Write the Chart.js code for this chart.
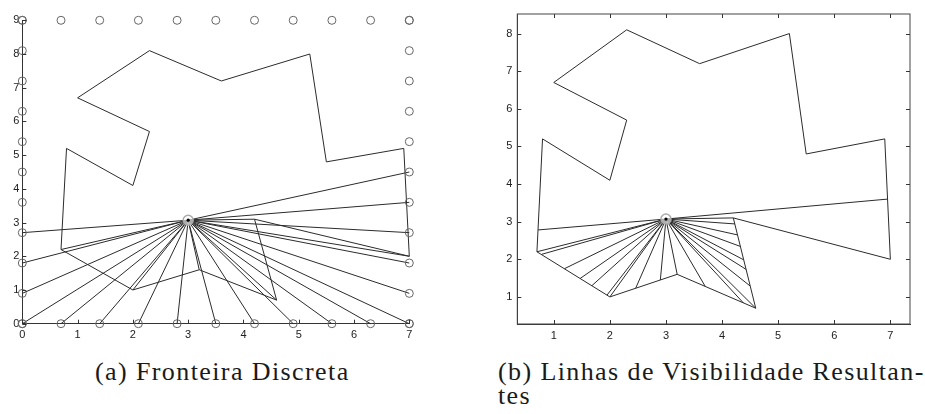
<!DOCTYPE html>
<html>
<head>
<meta charset="utf-8">
<script src="https://cdn.jsdelivr.net/npm/chart.js@4.4.0/dist/chart.umd.min.js"></script>
<style>
body { margin: 0; background: #fff; width: 925px; height: 414px; position: relative; overflow: hidden; }
canvas { position: absolute; top: 0; }
#chartA { left: 0; }
#chartB { left: 470px; }
.caption { position: absolute; font-family: "Liberation Serif", serif; font-size: 26px; letter-spacing: 1.4px; line-height: 24px; color: #1a1a1a; white-space: nowrap; }
#capA { left: 95px; top: 360px; }
#capB { left: 498px; top: 360px; }
</style>
</head>
<body>
<canvas id="chartA" width="440" height="350"></canvas>
<canvas id="chartB" width="455" height="350"></canvas>
<div class="caption" id="capA">(a) Fronteira Discreta</div>
<div class="caption" id="capB">(b) Linhas de Visibilidade Resultan-<br>tes</div>
<script>
// robot position
const robot = [3.0, 3.07];

// obstacle / room boundary polygon (closed)
const obstacleX = [1.0, 2.3, 3.6, 5.2, 5.5, 6.9, 7.0, 4.2, 4.6, 3.2, 2.0, 0.7, 0.8, 2.0, 2.3, 1.0];
const obstacleY = [6.7, 8.1, 7.2, 8.0, 4.8, 5.2, 2.0, 3.1, 0.7, 1.6, 1.0, 2.2, 5.2, 4.1, 5.7, 6.7];

// discrete frontier points (a)
const frontierX = [0, 0.7, 1.4, 2.1, 2.8, 3.5, 4.2, 4.9, 5.6, 6.3, 7];
const frontierY = [0, 0.9, 1.8, 2.7, 3.6, 4.5, 5.4, 6.3, 7.2, 8.1, 9];

// rays drawn in (a): robot -> target
const raysAX = [0, 0, 0, 0, 0.7, 1.4, 2.1, 2.8, 3.5, 4.2, 4.9, 5.6, 6.3, 7, 7, 7, 7, 7, 7, 0.7, 2.0, 3.2, 4.6, 4.2, 7.0];
const raysAY = [2.7, 1.8, 0.9, 0, 0, 0, 0, 0, 0, 0, 0, 0, 0, 0, 0.9, 1.8, 2.7, 3.6, 4.5, 2.2, 1.0, 1.6, 0.7, 3.1, 2.0];

// resulting visibility lines in (b): robot -> hit point
const raysBX = [0.72, 0.70, 0.78, 1.19, 1.47, 1.68, 1.95, 2.00, 2.46, 2.90, 3.20, 3.70, 4.38, 4.60, 4.50, 4.43, 4.38, 4.33, 4.27, 4.23, 4.20, 6.95];
const raysBY = [2.78, 2.20, 2.13, 1.75, 1.49, 1.30, 1.05, 1.00, 1.23, 1.45, 1.60, 1.28, 0.84, 0.70, 1.29, 1.73, 1.99, 2.34, 2.65, 2.94, 3.10, 3.60];

// tick labels
const ticksAX = [0, 1, 2, 3, 4, 5, 6, 7];
const ticksAY = [0, 1, 2, 3, 4, 5, 6, 7, 8, 9];
const ticksBX = [1, 2, 3, 4, 5, 6, 7];
const ticksBY = [1, 2, 3, 4, 5, 6, 7, 8];

const lineColor = "#2b2b2b";
const tickFont = { family: "Liberation Sans", size: 11 };

const pts = (xs, ys) => xs.map((x, i) => ({ x: x, y: ys[i] }));

const segment = (x, y, noClip) => ({
    data: [{ x: robot[0], y: robot[1] }, { x: x, y: y }],
    showLine: true,
    borderColor: lineColor,
    borderWidth: 1,
    pointRadius: 0,
    clip: noClip ? false : undefined
});

const robotSets = () => [
    {
        data: [{ x: robot[0], y: robot[1] }],
        pointRadius: 1.6,
        pointBackgroundColor: "#000",
        pointBorderColor: "#000",
        borderWidth: 0,
        clip: false
    },
    {
        data: [{ x: robot[0], y: robot[1] }],
        pointRadius: 5,
        pointBackgroundColor: "rgba(255,255,255,0.6)",
        pointBorderColor: "#aaa",
        pointBorderWidth: 1.5,
        clip: false
    }
];

const polygonSet = {
    data: pts(obstacleX, obstacleY),
    showLine: true,
    borderColor: lineColor,
    borderWidth: 1,
    pointRadius: 0,
    clip: false
};

// inward tick marks, and an optional full box
const matlabAxes = {
    id: "matlabAxes",
    afterDraw(chart, args, opts) {
        const c = chart.ctx;
        const a = chart.chartArea;
        const len = 4;
        c.save();
        c.strokeStyle = "#333";
        c.lineWidth = 1;
        c.beginPath();
        chart.scales.x.ticks.forEach(t => {
            const px = Math.round(chart.scales.x.getPixelForValue(t.value)) + 0.5;
            c.moveTo(px, a.bottom);
            c.lineTo(px, a.bottom - len);
            if (opts.frame) {
                c.moveTo(px, a.top);
                c.lineTo(px, a.top + len);
            }
        });
        chart.scales.y.ticks.forEach(t => {
            const py = Math.round(chart.scales.y.getPixelForValue(t.value)) + 0.5;
            c.moveTo(a.left, py);
            c.lineTo(a.left + len, py);
            if (opts.frame) {
                c.moveTo(a.right, py);
                c.lineTo(a.right - len, py);
            }
        });
        c.stroke();
        if (opts.frame) {
            c.strokeStyle = "#444";
            c.strokeRect(a.left, a.top, a.right - a.left, a.bottom - a.top);
        }
        c.restore();
    }
};

const makeScale = (min, max, tickList, size, pad, horizontal) => ({
    type: "linear",
    min: min,
    max: max,
    afterBuildTicks: s => { s.ticks = tickList.map(v => ({ value: v })); },
    afterFit: s => { if (horizontal) { s.height = size; } else { s.width = size; } },
    grid: { drawOnChartArea: false, drawTicks: false },
    border: { display: true, color: "#333", width: 1 },
    ticks: { font: tickFont, color: "#222", padding: pad, maxRotation: 0, autoSkip: false }
});

const baseOptions = (scales, frame, padding) => ({
    responsive: false,
    animation: false,
    layout: { padding: padding },
    scales: scales,
    plugins: {
        legend: { display: false },
        tooltip: { enabled: false },
        matlabAxes: { frame: frame }
    }
});

// (a) Fronteira Discreta
const frontierPts = []
    .concat(pts(frontierX, frontierX.map(() => 9)))
    .concat(pts(frontierX, frontierX.map(() => 0)))
    .concat(pts(frontierY.map(() => 0), frontierY))
    .concat(pts(frontierY.map(() => 7), frontierY));

const dataA = robotSets().concat([
    {
        data: frontierPts,
        pointRadius: 4,
        pointBorderColor: "#666",
        pointBackgroundColor: "rgba(0,0,0,0)",
        pointBorderWidth: 1,
        clip: false
    },
    polygonSet
]).concat(raysAX.map((x, i) => segment(x, raysAY[i], true)));

new Chart(document.getElementById("chartA"), {
    type: "scatter",
    data: { datasets: dataA },
    options: baseOptions({
        x: makeScale(0, 7, ticksAX, 26.3, 5, true),
        y: makeScale(0, 9, ticksAY, 22.3, 3, false)
    }, false, { left: 0, right: 30.7, top: 20.3, bottom: 0 }),
    plugins: [matlabAxes]
});

// (b) Linhas de Visibilidade Resultantes
const dataB = robotSets().concat([
    Object.assign({}, polygonSet, { clip: undefined })
]).concat(raysBX.map((x, i) => segment(x, raysBY[i], false)));

new Chart(document.getElementById("chartB"), {
    type: "scatter",
    data: { datasets: dataB },
    options: baseOptions({
        x: makeScale(0.35, 7.35, ticksBX, 26, 5, true),
        y: makeScale(0.28, 8.52, ticksBY, 47.3, 5, false)
    }, true, { left: 0, right: 15, top: 14, bottom: 0 }),
    plugins: [matlabAxes]
});
</script>
</body>
</html>
